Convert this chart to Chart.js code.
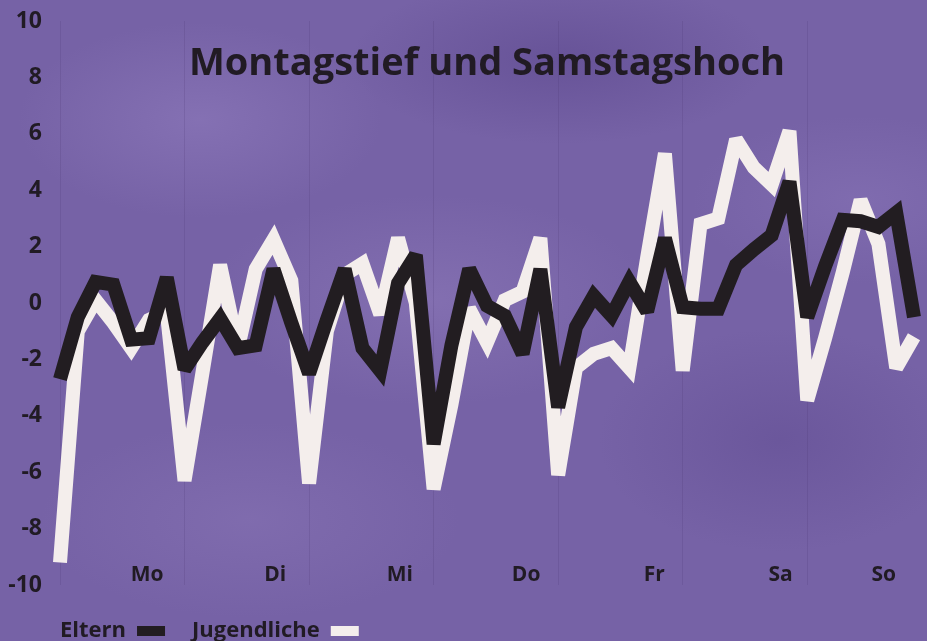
<!DOCTYPE html>
<html>
<head>
<meta charset="utf-8">
<script src="https://cdn.jsdelivr.net/npm/chart.js@4.4.0/dist/chart.umd.min.js"></script>
<style>
html, body { margin: 0; padding: 0; }
body {
    width: 927px;
    height: 641px;
    overflow: hidden;
    background:
        radial-gradient(ellipse 260px 140px at 200px 120px, rgba(150,130,195,0.45), rgba(150,130,195,0) 70%),
        radial-gradient(ellipse 300px 120px at 560px 60px, rgba(80,60,130,0.4), rgba(80,60,130,0) 70%),
        radial-gradient(ellipse 320px 150px at 430px 300px, rgba(150,130,192,0.4), rgba(150,130,192,0) 70%),
        radial-gradient(ellipse 260px 160px at 780px 440px, rgba(90,70,140,0.4), rgba(90,70,140,0) 70%),
        radial-gradient(ellipse 300px 140px at 250px 520px, rgba(145,125,188,0.35), rgba(145,125,188,0) 70%),
        radial-gradient(ellipse 240px 120px at 860px 200px, rgba(145,125,192,0.35), rgba(145,125,192,0) 70%),
        #7662a6;
}
canvas { display: block; }
</style>
</head>
<body>
<canvas id="grafik" width="927" height="641"></canvas>
<script>
// Abweichung vom Mittel, 7 Messpunkte pro Tag
const eltern = [
    -2.7, -0.5, 0.75, 0.65, -1.3, -1.25, 0.9,
    -2.35, -1.4, -0.55, -1.6, -1.5, 1.2, -0.7,
    -2.5, -0.6, 1.2, -1.6, -2.4, 0.7, 1.7,
    -5.0, -1.5, 1.2, -0.1, -0.45, -1.8, 1.2,
    -3.7, -0.85, 0.25, -0.45, 0.75, -0.3, 2.3,
    -0.15, -0.2, -0.2, 1.35, 1.9, 2.4, 4.3,
    -0.5, 1.3, 2.95, 2.9, 2.7, 3.2, -0.5
];
const jugendliche = [
    -9.2, -1.0, 0.1, -0.7, -1.6, -0.6, -0.3,
    -6.3, -2.5, 1.35, -1.6, 1.2, 2.25, 0.8,
    -6.4, -1.0, 1.0, 1.4, -0.4, 2.3, 0.0,
    -6.6, -3.6, -0.2, -1.4, 0.1, 0.4, 2.3,
    -6.1, -2.3, -1.8, -1.6, -2.3, 1.6, 5.3,
    -2.4, 2.8, 3.0, 5.8, 4.8, 4.2, 6.1,
    -3.45, -1.25, 1.1, 3.65, 2.1, -2.3, -1.2
];
const tage = ['Mo', 'Di', 'Mi', 'Do', 'Fr', 'Sa', 'So'];
const tagPos = [4.9, 12.1, 19.1, 26.2, 33.4, 40.5, 46.3];
const tagGrenzen = [0, 7, 14, 21, 28, 35, 42];
const yLabels = ['10', '8', '6', '4', '2', '0', '-2', '-4', '-6', '-8', '-10'];

const schrift = '"Open Sans", Lato, sans-serif';
const dunkel = '#211b24';
const schwarz = '#221d21';
const weiss = '#f4eeec';

// breiteste y-Beschriftung, damit die Zahlen rechtsbuendig bei x=42 stehen
const mess = document.createElement('canvas').getContext('2d');
mess.font = 'bold 23px ' + schrift;
const breitestes = Math.max.apply(null, yLabels.map(function (t) { return mess.measureText(t).width; }));

function punkte(werte) {
    return werte.map(function (v, i) { return {x: i, y: v}; });
}

const ctx = document.getElementById('grafik');
new Chart(ctx, {
    type: 'line',
    data: {
        datasets: [{
            label: 'Eltern',
            data: punkte(eltern),
            borderColor: schwarz,
            backgroundColor: schwarz,
            borderWidth: 14
        }, {
            label: 'Jugendliche',
            data: punkte(jugendliche),
            borderColor: weiss,
            backgroundColor: weiss,
            borderWidth: 14
        }]
    },
    options: {
        responsive: false,
        animation: false,
        events: [],
        elements: {
            point: {radius: 0},
            line: {tension: 0, borderJoinStyle: 'miter', borderCapStyle: 'butt'}
        },
        datasets: {line: {clip: false}},
        layout: {padding: {left: 33, right: 13, top: 21, bottom: 0}},
        scales: {
            x: {
                type: 'linear', min: 0, max: 48,
                grid: {display: false},
                border: {display: false},
                afterBuildTicks: function (s) { s.ticks = tagPos.map(function (v) { return {value: v}; }); },
                afterFit: function (s) { s.height = 8; s.paddingLeft = 0; s.paddingRight = 0; },
                ticks: {
                    autoSkip: false, maxRotation: 0, mirror: true, padding: -3,
                    color: dunkel,
                    font: {family: schrift, size: 21, weight: 'bold'},
                    callback: function (v, i) { return tage[i]; }
                }
            },
            x2: {
                type: 'linear', position: 'bottom', min: 0, max: 48,
                afterBuildTicks: function (s) { s.ticks = tagGrenzen.map(function (v) { return {value: v}; }); },
                afterFit: function (s) { s.height = 0; s.paddingLeft = 0; s.paddingRight = 0; },
                ticks: {display: false},
                grid: {color: 'rgba(70,50,110,0.18)', drawTicks: false},
                border: {display: false}
            },
            y: {
                min: -10, max: 10,
                grid: {display: false},
                border: {display: false},
                afterFit: function (s) { s.width = 27; s.paddingTop = 0; s.paddingBottom = 0; },
                ticks: {
                    stepSize: 2, mirror: true, crossAlign: 'far',
                    padding: -18 - breitestes,
                    color: dunkel,
                    font: {family: schrift, size: 23, weight: 'bold'}
                }
            }
        },
        plugins: {
            title: {
                display: true,
                fullSize: false,
                text: 'Montagstief und Samstagshoch',
                color: dunkel,
                font: {family: schrift, size: 38, weight: 'bold'},
                padding: {top: 20.7, bottom: -66.3}
            },
            legend: {
                position: 'bottom',
                align: 'end',
                rtl: true,
                reverse: true,
                maxHeight: 48,
                labels: {
                    padding: 27,
                    boxWidth: 28,
                    boxHeight: 10,
                    color: dunkel,
                    font: {family: schrift, size: 22, weight: 'bold'},
                    generateLabels: function (chart) {
                        let items = Chart.defaults.plugins.legend.labels.generateLabels(chart);
                        items.forEach(function (it) { it.lineWidth = 0; });
                        return items;
                    }
                }
            },
            tooltip: {enabled: false}
        }
    },
    plugins: [{
        id: 'gehrung',
        beforeDatasetsDraw: function (chart) { chart.ctx.miterLimit = 2.5; }
    }]
});
</script>
</body>
</html>
